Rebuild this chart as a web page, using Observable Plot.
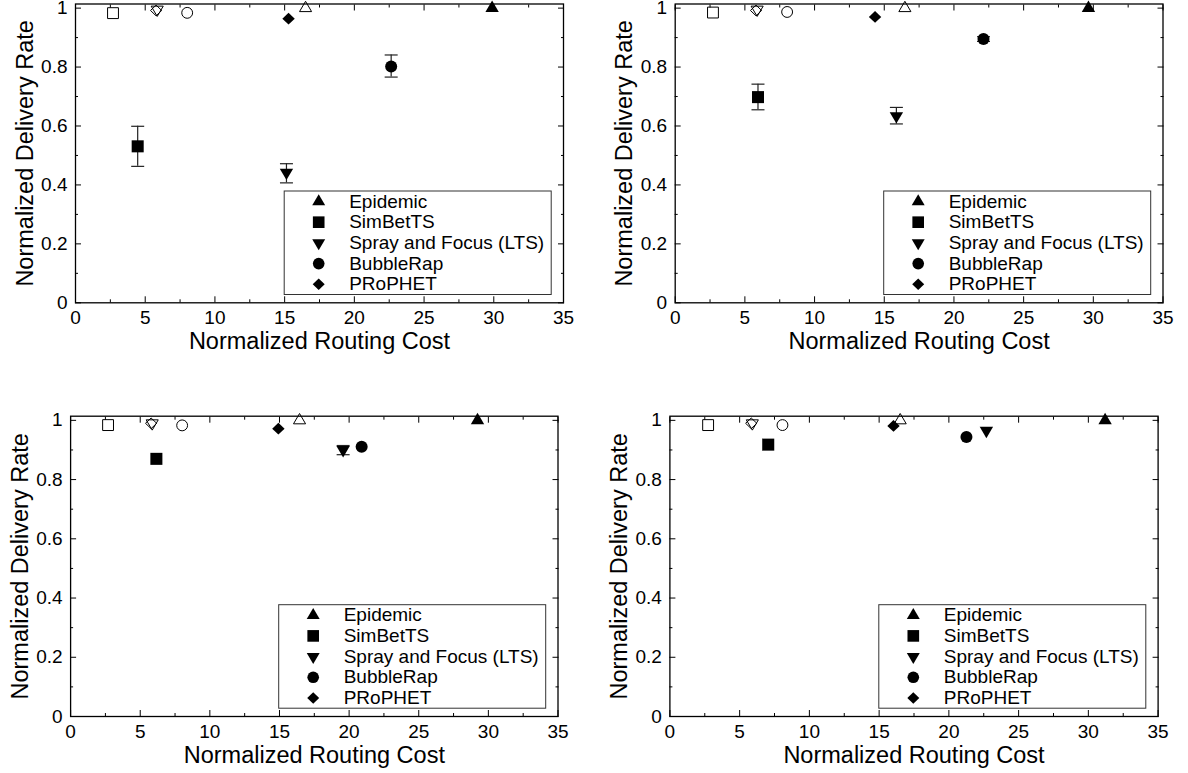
<!DOCTYPE html>
<html><head><meta charset="utf-8">
<script src="https://cdn.jsdelivr.net/npm/d3@7"></script>
<script src="https://cdn.jsdelivr.net/npm/@observablehq/plot@0.6"></script>
<style>
html,body{margin:0;padding:0;background:#fff;}
#wrap{position:relative;width:1188px;height:773px;overflow:hidden;background:#fff;}
.panel{position:absolute;}
</style></head><body><div id="wrap"></div>
<script>
// ---------- data ----------
const protocols = ["Epidemic", "SimBetTS", "Spray and Focus (LTS)", "BubbleRap", "PRoPHET"];

// panel A (top-left)
const costA = [29.88, 4.46, 15.13, 22.64, 15.28];
const rateA = [1.0, 0.531, 0.442, 0.802, 0.964];
const errLoA = [null, 0.463, 0.407, 0.766, null];
const errHiA = [null, 0.599, 0.472, 0.841, null];
// panel B (top-right)
const costB = [29.65, 5.94, 15.87, 22.12, 14.34];
const rateB = [1.0, 0.698, 0.634, 0.895, 0.970];
const errLoB = [null, 0.655, 0.607, 0.887, null];
const errHiB = [null, 0.742, 0.663, 0.903, null];
// panel C (bottom-left)
const costC = [29.22, 6.16, 19.57, 20.90, 14.92];
const rateC = [1.0, 0.870, 0.900, 0.911, 0.972];
const errLoC = [null, null, 0.884, null, null];
const errHiC = [null, null, 0.915, null, null];
// panel D (bottom-right)
const costD = [31.20, 7.05, 22.69, 21.26, 16.03];
const rateD = [1.0, 0.918, 0.965, 0.944, 0.981];
const errLoD = [null, null, null, null, null];
const errHiD = [null, null, null, null, null];

// hollow (reference) points, same protocol order
const openCostA = [16.50, 2.69, 5.86, 8.01, 5.78];
const openRateA = [1.0, 0.983, 0.995, 0.984, 0.992];
const openCostB = [16.48, 2.71, 5.88, 8.03, 5.80];
const openRateB = [1.0, 0.985, 0.995, 0.987, 0.992];
const openCostC = [16.44, 2.69, 5.86, 8.01, 5.78];
const openRateC = [1.0, 0.984, 0.990, 0.983, 0.990];
const openCostD = [16.51, 2.74, 5.91, 8.07, 5.83];
const openRateD = [1.0, 0.984, 0.990, 0.984, 0.990];

const xMajor = [0, 5, 10, 15, 20, 25, 30, 35];
const xMinor = [2.5, 7.5, 12.5, 17.5, 22.5, 27.5, 32.5];
const yMajor = [0, 0.2, 0.4, 0.6, 0.8, 1];
const yMinor = [0.1, 0.3, 0.5, 0.7, 0.9];
const xTitle = "Normalized Routing Cost";
const yTitle = "Normalized Delivery Rate";

// ---------- symbols ----------
const rad = (size) => Math.sqrt(size / Math.PI);
const shapes = {
  triangleUp: {draw(c, s) { const r = rad(s); c.moveTo(0, -1.22 * r); c.lineTo(1.08 * r, 0.62 * r); c.lineTo(-1.08 * r, 0.62 * r); c.closePath(); }},
  triangleDown: {draw(c, s) { const r = rad(s); c.moveTo(0, 1.22 * r); c.lineTo(1.08 * r, -0.62 * r); c.lineTo(-1.08 * r, -0.62 * r); c.closePath(); }},
  square: {draw(c, s) { const r = rad(s) * 0.97; c.rect(-r, -r, 2 * r, 2 * r); }},
  circle: {draw(c, s) { const r = rad(s) * 0.97; c.moveTo(r, 0); c.arc(0, 0, r, 0, 2 * Math.PI); }},
  diamond: {draw(c, s) { const r = rad(s); c.moveTo(0, -0.95 * r); c.lineTo(r, 0); c.lineTo(0, 0.95 * r); c.lineTo(-r, 0); c.closePath(); }},
  cap: {draw(c, s) { const r = rad(s); c.moveTo(-r, 0); c.lineTo(r, 0); }}
};
const shapeOf = ["triangleUp", "square", "triangleDown", "circle", "diamond"];

const FONT = "'Liberation Sans', Arial, Helvetica, sans-serif";

const panels = [
  {cost: costA, rate: rateA, lo: errLoA, hi: errHiA, oc: openCostA, or: openRateA, left: 0, top: 0, h: 386, mL: 75, mR: 31, mT: 3.5, mB: 83.7},
  {cost: costB, rate: rateB, lo: errLoB, hi: errHiB, oc: openCostB, or: openRateB, left: 594, top: 0, h: 386, mL: 80.7, mR: 25.5, mT: 3.5, mB: 83.7},
  {cost: costC, rate: rateC, lo: errLoC, hi: errHiC, oc: openCostC, or: openRateC, left: 0, top: 386, h: 387, mL: 70.1, mR: 36.5, mT: 29.7, mB: 57},
  {cost: costD, rate: rateD, lo: errLoD, hi: errHiD, oc: openCostD, or: openRateD, left: 594, top: 386, h: 387, mL: 75.4, mR: 30.4, mT: 29.7, mB: 57}
];

const W = 594;
const wrap = document.getElementById("wrap");

for (const p of panels) {
  const rows = protocols.map((name, i) => ({name, i, cost: p.cost[i], rate: p.rate[i], lo: p.lo[i], hi: p.hi[i]}));
  const open = protocols.map((name, i) => ({name, i, cost: p.oc[i], rate: p.or[i]}));
  const errRows = rows.filter(d => d.lo != null);
  const innerW = W - p.mL - p.mR;
  const innerH = p.h - p.mT - p.mB;
  const legW = 267, legH = 103.5, legR = 12.3, legB = 8.3;
  const legLeft = innerW - legR - legW;
  const legTop = innerH - legB - legH;

  const marks = [
    Plot.frame({stroke: "black", strokeWidth: 1.3}),
    Plot.axisX(xMajor, {anchor: "bottom", tickSize: -6, tickPadding: 14, fontSize: 19, label: null, tickFormat: d => String(d)}),
    Plot.axisX(xMinor, {anchor: "bottom", tickSize: -3, label: null, tickFormat: () => ""}),
    Plot.axisX(xMajor, {anchor: "top", tickSize: -6, label: null, tickFormat: () => ""}),
    Plot.axisX(xMinor, {anchor: "top", tickSize: -3, label: null, tickFormat: () => ""}),
    Plot.axisY(yMajor, {anchor: "left", tickSize: -6, tickPadding: 14, fontSize: 19, label: null, tickFormat: d => String(d)}),
    Plot.axisY(yMinor, {anchor: "left", tickSize: -3, label: null, tickFormat: () => ""}),
    Plot.axisY(yMajor, {anchor: "right", tickSize: -6, label: null, tickFormat: () => ""}),
    Plot.axisY(yMinor, {anchor: "right", tickSize: -3, label: null, tickFormat: () => ""}),
    Plot.text([xTitle], {frameAnchor: "bottom", dy: 46, textAnchor: "middle", lineAnchor: "bottom", fontSize: 23.5, text: d => d, fill: "black"}),
    Plot.text([yTitle], {frameAnchor: "left", dx: -43, rotate: -90, textAnchor: "middle", lineAnchor: "bottom", fontSize: 23.5, text: d => d, fill: "black"}),
    // legend box
    Plot.frame({insetLeft: legLeft, insetTop: legTop, insetRight: legR, insetBottom: legB, stroke: "#333", strokeWidth: 1}),
    // error bars
    Plot.ruleX(errRows, {x: "cost", y1: "lo", y2: "hi", stroke: "#222", strokeWidth: 1.2}),
    Plot.dot(errRows, {x: "cost", y: "lo", symbol: shapes.cap, r: 6.5, stroke: "#222", fill: "none", strokeWidth: 1.2}),
    Plot.dot(errRows, {x: "cost", y: "hi", symbol: shapes.cap, r: 6.5, stroke: "#222", fill: "none", strokeWidth: 1.2})
  ];
  protocols.forEach((name, i) => {
    const sym = shapes[shapeOf[i]];
    marks.push(Plot.dot(open.filter(d => d.i === i), {x: "cost", y: "rate", symbol: sym, r: 5.6, fill: "none", stroke: "black", strokeWidth: 1}));
    marks.push(Plot.dot(rows.filter(d => d.i === i), {x: "cost", y: "rate", symbol: sym, r: 6.2, fill: "black", stroke: "none"}));
    const rowY = legTop + 10.5 + 20.7 * i;
    marks.push(Plot.dot([name], {frameAnchor: "top-left", dx: legLeft + 34.5, dy: rowY, symbol: sym, r: 6, fill: "black", stroke: "none"}));
    marks.push(Plot.text([name], {frameAnchor: "top-left", dx: legLeft + 65, dy: rowY, textAnchor: "start", lineAnchor: "middle", fontSize: 19, text: d => d, fill: "black"}));
  });

  const chart = Plot.plot({
    width: W,
    height: p.h,
    marginLeft: p.mL, marginRight: p.mR, marginTop: p.mT, marginBottom: p.mB,
    x: {domain: [0, 35]},
    y: {domain: [0, 1.014]},
    style: {fontFamily: FONT, fontSize: "19px", color: "black", background: "white", overflow: "visible"},
    marks
  });
  const div = document.createElement("div");
  div.className = "panel";
  div.style.left = p.left + "px";
  div.style.top = p.top + "px";
  div.appendChild(chart);
  wrap.appendChild(div);
}
</script>
</body></html>
